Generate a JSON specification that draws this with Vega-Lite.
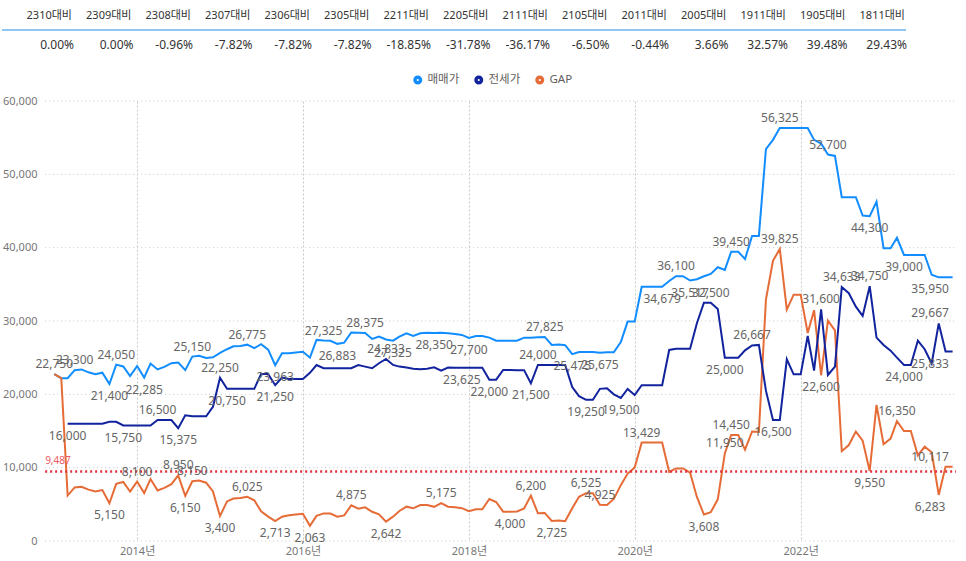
{
  "$schema": "https://vega.github.io/schema/vega-lite/v6.json",
  "padding": {"left": 1, "top": 1, "right": 0, "bottom": 0},
  "spacing": 36,
  "config": {
    "font": "'Noto Sans', 'Noto Sans CJK KR'",
    "view": {"stroke": null}
  },
  "datasets": {
    "tbl": [
      {"c": "2310대비", "p": "0.00%"}, {"c": "2309대비", "p": "0.00%"}, {"c": "2308대비", "p": "-0.96%"},
      {"c": "2307대비", "p": "-7.82%"}, {"c": "2306대비", "p": "-7.82%"}, {"c": "2305대비", "p": "-7.82%"},
      {"c": "2211대비", "p": "-18.85%"}, {"c": "2205대비", "p": "-31.78%"}, {"c": "2111대비", "p": "-36.17%"},
      {"c": "2105대비", "p": "-6.50%"}, {"c": "2011대비", "p": "-0.44%"}, {"c": "2005대비", "p": "3.66%"},
      {"c": "1911대비", "p": "32.57%"}, {"c": "1905대비", "p": "39.48%"}, {"c": "1811대비", "p": "29.43%"}
    ],
    "grid": [
      {"g": 0, "t0": "2012-11-22", "t1": "2023-11-16"}, {"g": 10000, "t0": "2012-11-22", "t1": "2023-11-16"},
      {"g": 20000, "t0": "2012-11-22", "t1": "2023-11-16"}, {"g": 30000, "t0": "2012-11-22", "t1": "2023-11-16"},
      {"g": 40000, "t0": "2012-11-22", "t1": "2023-11-16"}, {"g": 50000, "t0": "2012-11-22", "t1": "2023-11-16"},
      {"g": 60000, "t0": "2012-11-22", "t1": "2023-11-16"}
    ],
    "main": [
      {"d": "2013-01", "매매가": 22750, "전세가": null, "GAP": 22750, "L": "GAP"},
      {"d": "2013-02", "매매가": 22200, "전세가": null, "GAP": 22200},
      {"d": "2013-03", "매매가": 22200, "전세가": 16000, "GAP": 6200, "L": "전세가"},
      {"d": "2013-04", "매매가": 23300, "전세가": 16000, "GAP": 7300, "L": "매매가"},
      {"d": "2013-05", "매매가": 23400, "전세가": 16000, "GAP": 7400},
      {"d": "2013-06", "매매가": 23000, "전세가": 16000, "GAP": 7000},
      {"d": "2013-07", "매매가": 22750, "전세가": 16000, "GAP": 6750},
      {"d": "2013-08", "매매가": 22950, "전세가": 16000, "GAP": 6950},
      {"d": "2013-09", "매매가": 21400, "전세가": 16250, "GAP": 5150, "L": "매매가|GAP"},
      {"d": "2013-10", "매매가": 24050, "전세가": 16250, "GAP": 7800, "L": "매매가"},
      {"d": "2013-11", "매매가": 23800, "전세가": 15750, "GAP": 8050, "L": "전세가"},
      {"d": "2013-12", "매매가": 22500, "전세가": 15750, "GAP": 6750},
      {"d": "2014-01", "매매가": 23850, "전세가": 15750, "GAP": 8100, "L": "GAP"},
      {"d": "2014-02", "매매가": 22285, "전세가": 15750, "GAP": 6535, "L": "매매가"},
      {"d": "2014-03", "매매가": 24200, "전세가": 15750, "GAP": 8450},
      {"d": "2014-04", "매매가": 23400, "전세가": 16500, "GAP": 6900, "L": "전세가"},
      {"d": "2014-05", "매매가": 23750, "전세가": 16500, "GAP": 7250},
      {"d": "2014-06", "매매가": 24250, "전세가": 16500, "GAP": 7750},
      {"d": "2014-07", "매매가": 24325, "전세가": 15375, "GAP": 8950, "L": "전세가|GAP"},
      {"d": "2014-08", "매매가": 23300, "전세가": 17150, "GAP": 6150, "L": "GAP"},
      {"d": "2014-09", "매매가": 25150, "전세가": 17000, "GAP": 8150, "L": "매매가|GAP"},
      {"d": "2014-10", "매매가": 25250, "전세가": 17000, "GAP": 8250},
      {"d": "2014-11", "매매가": 24950, "전세가": 17000, "GAP": 7950},
      {"d": "2014-12", "매매가": 25050, "전세가": 18300, "GAP": 6750},
      {"d": "2015-01", "매매가": 25650, "전세가": 22250, "GAP": 3400, "L": "전세가|GAP"},
      {"d": "2015-02", "매매가": 26150, "전세가": 20750, "GAP": 5400, "L": "전세가"},
      {"d": "2015-03", "매매가": 26550, "전세가": 20750, "GAP": 5800},
      {"d": "2015-04", "매매가": 26600, "전세가": 20750, "GAP": 5850},
      {"d": "2015-05", "매매가": 26775, "전세가": 20750, "GAP": 6025, "L": "매매가|GAP"},
      {"d": "2015-06", "매매가": 26300, "전세가": 20750, "GAP": 5550},
      {"d": "2015-07", "매매가": 26830, "전세가": 22780, "GAP": 4050},
      {"d": "2015-08", "매매가": 26100, "전세가": 22780, "GAP": 3320},
      {"d": "2015-09", "매매가": 23963, "전세가": 21250, "GAP": 2713, "L": "매매가|전세가|GAP"},
      {"d": "2015-10", "매매가": 25600, "전세가": 22280, "GAP": 3320},
      {"d": "2015-11", "매매가": 25600, "전세가": 22100, "GAP": 3500},
      {"d": "2015-12", "매매가": 25700, "전세가": 22100, "GAP": 3600},
      {"d": "2016-01", "매매가": 25800, "전세가": 22100, "GAP": 3700},
      {"d": "2016-02", "매매가": 25000, "전세가": 22937, "GAP": 2063, "L": "GAP"},
      {"d": "2016-03", "매매가": 27420, "전세가": 24000, "GAP": 3420},
      {"d": "2016-04", "매매가": 27325, "전세가": 23560, "GAP": 3765, "L": "매매가"},
      {"d": "2016-05", "매매가": 27300, "전세가": 23560, "GAP": 3740},
      {"d": "2016-06", "매매가": 26883, "전세가": 23560, "GAP": 3323, "L": "매매가"},
      {"d": "2016-07", "매매가": 27050, "전세가": 23560, "GAP": 3490},
      {"d": "2016-08", "매매가": 28435, "전세가": 23560, "GAP": 4875, "L": "GAP"},
      {"d": "2016-09", "매매가": 28400, "전세가": 24000, "GAP": 4400},
      {"d": "2016-10", "매매가": 28375, "전세가": 23780, "GAP": 4595, "L": "매매가"},
      {"d": "2016-11", "매매가": 27550, "전세가": 23560, "GAP": 3990},
      {"d": "2016-12", "매매가": 27870, "전세가": 24240, "GAP": 3630},
      {"d": "2017-01", "매매가": 27475, "전세가": 24833, "GAP": 2642, "L": "전세가|GAP"},
      {"d": "2017-02", "매매가": 27325, "전세가": 24010, "GAP": 3315, "L": "매매가"},
      {"d": "2017-03", "매매가": 27870, "전세가": 23780, "GAP": 4090},
      {"d": "2017-04", "매매가": 28330, "전세가": 23650, "GAP": 4680},
      {"d": "2017-05", "매매가": 27960, "전세가": 23500, "GAP": 4460},
      {"d": "2017-06", "매매가": 28330, "전세가": 23420, "GAP": 4910},
      {"d": "2017-07", "매매가": 28400, "전세가": 23500, "GAP": 4900},
      {"d": "2017-08", "매매가": 28350, "전세가": 23690, "GAP": 4660, "L": "매매가"},
      {"d": "2017-09", "매매가": 28410, "전세가": 23235, "GAP": 5175, "L": "GAP"},
      {"d": "2017-10", "매매가": 28330, "전세가": 23650, "GAP": 4680},
      {"d": "2017-11", "매매가": 28230, "전세가": 23625, "GAP": 4605},
      {"d": "2017-12", "매매가": 28100, "전세가": 23625, "GAP": 4475, "L": "전세가"},
      {"d": "2018-01", "매매가": 27700, "전세가": 23625, "GAP": 4075, "L": "매매가"},
      {"d": "2018-02", "매매가": 27960, "전세가": 23625, "GAP": 4335},
      {"d": "2018-03", "매매가": 27960, "전세가": 23625, "GAP": 4335},
      {"d": "2018-04", "매매가": 27730, "전세가": 22000, "GAP": 5730, "L": "전세가"},
      {"d": "2018-05", "매매가": 27320, "전세가": 22000, "GAP": 5320},
      {"d": "2018-06", "매매가": 27320, "전세가": 23320, "GAP": 4000},
      {"d": "2018-07", "매매가": 27320, "전세가": 23320, "GAP": 4000, "L": "GAP"},
      {"d": "2018-08", "매매가": 27320, "전세가": 23300, "GAP": 4020},
      {"d": "2018-09", "매매가": 27730, "전세가": 23300, "GAP": 4430},
      {"d": "2018-10", "매매가": 27700, "전세가": 21500, "GAP": 6200, "L": "전세가|GAP"},
      {"d": "2018-11", "매매가": 27775, "전세가": 24000, "GAP": 3775, "L": "전세가"},
      {"d": "2018-12", "매매가": 27825, "전세가": 24000, "GAP": 3825, "L": "매매가"},
      {"d": "2019-01", "매매가": 26725, "전세가": 24000, "GAP": 2725, "L": "GAP"},
      {"d": "2019-02", "매매가": 26800, "전세가": 24000, "GAP": 2800},
      {"d": "2019-03", "매매가": 26700, "전세가": 24000, "GAP": 2700},
      {"d": "2019-04", "매매가": 25475, "전세가": 21000, "GAP": 4475, "L": "매매가"},
      {"d": "2019-05", "매매가": 25775, "전세가": 19750, "GAP": 6025},
      {"d": "2019-06", "매매가": 25775, "전세가": 19250, "GAP": 6525, "L": "전세가|GAP"},
      {"d": "2019-07", "매매가": 25775, "전세가": 19250, "GAP": 6525},
      {"d": "2019-08", "매매가": 25675, "전세가": 20750, "GAP": 4925, "L": "매매가|GAP"},
      {"d": "2019-09", "매매가": 25740, "전세가": 20830, "GAP": 4910},
      {"d": "2019-10", "매매가": 25740, "전세가": 20000, "GAP": 5740},
      {"d": "2019-11", "매매가": 27118, "전세가": 19500, "GAP": 7618, "L": "전세가"},
      {"d": "2019-12", "매매가": 29920, "전세가": 20730, "GAP": 9190},
      {"d": "2020-01", "매매가": 29920, "전세가": 19910, "GAP": 10010},
      {"d": "2020-02", "매매가": 34679, "전세가": 21250, "GAP": 13429, "L": "GAP"},
      {"d": "2020-03", "매매가": 34679, "전세가": 21250, "GAP": 13429},
      {"d": "2020-04", "매매가": 34679, "전세가": 21250, "GAP": 13429},
      {"d": "2020-05", "매매가": 34679, "전세가": 21250, "GAP": 13429, "L": "매매가"},
      {"d": "2020-06", "매매가": 35460, "전세가": 26050, "GAP": 9410},
      {"d": "2020-07", "매매가": 36100, "전세가": 26200, "GAP": 9900, "L": "매매가"},
      {"d": "2020-08", "매매가": 36100, "전세가": 26200, "GAP": 9900},
      {"d": "2020-09", "매매가": 35517, "전세가": 26200, "GAP": 9317, "L": "매매가"},
      {"d": "2020-10", "매매가": 35700, "전세가": 29690, "GAP": 6010},
      {"d": "2020-11", "매매가": 36100, "전세가": 32492, "GAP": 3608, "L": "GAP"},
      {"d": "2020-12", "매매가": 36420, "전세가": 32500, "GAP": 3920, "L": "전세가"},
      {"d": "2021-01", "매매가": 37330, "전세가": 31650, "GAP": 5680},
      {"d": "2021-02", "매매가": 36950, "전세가": 25000, "GAP": 11950, "L": "전세가|GAP"},
      {"d": "2021-03", "매매가": 39450, "전세가": 25000, "GAP": 14450, "L": "매매가|GAP"},
      {"d": "2021-04", "매매가": 39450, "전세가": 25000, "GAP": 14450},
      {"d": "2021-05", "매매가": 38449, "전세가": 26000, "GAP": 12449},
      {"d": "2021-06", "매매가": 41600, "전세가": 26667, "GAP": 14933, "L": "전세가"},
      {"d": "2021-07", "매매가": 41600, "전세가": 26740, "GAP": 14860},
      {"d": "2021-08", "매매가": 53430, "전세가": 20500, "GAP": 32930},
      {"d": "2021-09", "매매가": 54700, "전세가": 16500, "GAP": 38200, "L": "전세가"},
      {"d": "2021-10", "매매가": 56325, "전세가": 16500, "GAP": 39825, "L": "매매가|GAP"},
      {"d": "2021-11", "매매가": 56325, "전세가": 24780, "GAP": 31545},
      {"d": "2021-12", "매매가": 56325, "전세가": 22730, "GAP": 33595},
      {"d": "2022-01", "매매가": 56325, "전세가": 22730, "GAP": 33595},
      {"d": "2022-02", "매매가": 56325, "전세가": 27960, "GAP": 28365},
      {"d": "2022-03", "매매가": 54700, "전세가": 23230, "GAP": 31470},
      {"d": "2022-04", "매매가": 54200, "전세가": 31600, "GAP": 22600, "L": "전세가|GAP"},
      {"d": "2022-05", "매매가": 52700, "전세가": 22640, "GAP": 30060, "L": "매매가"},
      {"d": "2022-06", "매매가": 52510, "전세가": 23780, "GAP": 28730},
      {"d": "2022-07", "매매가": 46880, "전세가": 34633, "GAP": 12247, "L": "전세가"},
      {"d": "2022-08", "매매가": 46880, "전세가": 33790, "GAP": 13090},
      {"d": "2022-09", "매매가": 46880, "전세가": 31960, "GAP": 14920},
      {"d": "2022-10", "매매가": 44370, "전세가": 30690, "GAP": 13680},
      {"d": "2022-11", "매매가": 44300, "전세가": 34750, "GAP": 9550, "L": "매매가|전세가|GAP"},
      {"d": "2022-12", "매매가": 46280, "전세가": 27730, "GAP": 18550},
      {"d": "2023-01", "매매가": 39920, "전세가": 26730, "GAP": 13190},
      {"d": "2023-02", "매매가": 39920, "전세가": 25960, "GAP": 13960},
      {"d": "2023-03", "매매가": 41350, "전세가": 25000, "GAP": 16350, "L": "GAP"},
      {"d": "2023-04", "매매가": 39000, "전세가": 24000, "GAP": 15000, "L": "매매가|전세가"},
      {"d": "2023-05", "매매가": 39000, "전세가": 24000, "GAP": 15000},
      {"d": "2023-06", "매매가": 39000, "전세가": 27320, "GAP": 11680},
      {"d": "2023-07", "매매가": 39000, "전세가": 26150, "GAP": 12850},
      {"d": "2023-08", "매매가": 36300, "전세가": 24200, "GAP": 12100},
      {"d": "2023-09", "매매가": 35950, "전세가": 29667, "GAP": 6283, "L": "매매가|전세가|GAP"},
      {"d": "2023-10", "매매가": 35950, "전세가": 25833, "GAP": 10117, "L": "전세가|GAP"},
      {"d": "2023-11", "매매가": 35950, "전세가": 25833, "GAP": 10117}
    ]
  },
  "vconcat": [
    {
      "width": 904,
      "height": 58,
      "data": {"name": "tbl"},
      "layer": [
        {
          "data": {"values": [{"r": "r"}]},
          "mark": {"type": "rule", "color": "#8DC8F4", "strokeWidth": 2},
          "encoding": {
            "y": {"field": "r", "type": "nominal",
                  "scale": {"type": "point", "domain": ["h", "r", "v"], "padding": 1}, "axis": null}
          }
        },
        {
          "transform": [{"calculate": "'h'", "as": "row"}],
          "mark": {"type": "text", "align": "right", "dx": -1, "fontSize": 11, "color": "#333333"},
          "encoding": {
            "x": {"field": "c", "type": "nominal", "sort": null, "bandPosition": 1,
                  "scale": {"type": "band", "paddingInner": 0, "paddingOuter": 0.0966, "align": 1}, "axis": null},
            "y": {"field": "row", "type": "nominal"},
            "text": {"field": "c"}
          }
        },
        {
          "transform": [{"calculate": "'v'", "as": "row"}],
          "mark": {"type": "text", "align": "right", "dx": 1, "fontSize": 12, "color": "#333333"},
          "encoding": {
            "x": {"field": "c", "type": "nominal", "sort": null, "bandPosition": 1},
            "y": {"field": "row", "type": "nominal"},
            "text": {"field": "p"}
          }
        }
      ]
    },
    {
      "width": 954,
      "height": 440,
      "data": {"name": "main"},
      "layer": [
        {
          "data": {"name": "grid"},
          "mark": {"type": "rule", "color": "#C8C8C8", "strokeWidth": 1, "strokeDash": [1, 3]},
          "encoding": {
            "x": {"field": "t0", "type": "temporal"},
            "x2": {"field": "t1"},
            "y": {"field": "g", "type": "quantitative"}
          }
        },
        {
          "transform": [
            {"fold": ["매매가", "전세가", "GAP"], "as": ["s", "v"]},
            {"filter": "datum.v != null"}
          ],
          "mark": {"type": "line", "strokeWidth": 2},
          "encoding": {
            "x": {"field": "d", "type": "temporal",
                  "scale": {"type": "utc", "domain": [{"year": 2012, "month": 5, "date": 16, "utc": true}, {"year": 2023, "month": 11, "date": 16, "utc": true}]},
                  "axis": {"values": [{"year": 2014, "month": 1, "date": 1, "utc": true}, {"year": 2016, "month": 1, "date": 1, "utc": true}, {"year": 2018, "month": 1, "date": 1, "utc": true}, {"year": 2020, "month": 1, "date": 1, "utc": true}, {"year": 2022, "month": 1, "date": 1, "utc": true}],
                           "format": "%Y년", "title": null, "grid": true, "gridDash": [2, 2], "gridColor": "#C8C8C8",
                           "ticks": false, "domain": false, "labelColor": "#777777", "labelFontSize": 11, "labelPadding": 4}},
            "y": {"field": "v", "type": "quantitative",
                  "scale": {"domain": [0, 60000], "nice": false},
                  "axis": {"values": [0, 10000, 20000, 30000, 40000, 50000, 60000], "labelExpr": "format(datum.value, ',')", "title": null,
                           "offset": -43, "grid": false, "ticks": false, "domain": false,
                           "labelColor": "#777777", "labelFontSize": 11, "labelPadding": 8}},
            "color": {"field": "s", "type": "nominal",
                      "scale": {"domain": ["매매가", "전세가", "GAP"], "range": ["#118DFF", "#12239E", "#E66C37"]},
                      "legend": {"orient": "none", "legendX": 410, "legendY": 73, "direction": "horizontal", "title": null,
                                 "symbolType": "circle", "symbolSize": 12, "symbolStrokeWidth": 5.5,
                                 "labelFontSize": 11.5, "labelColor": "#605E5C", "columnPadding": 6}}
          }
        },
        {
          "data": {"values": [{"ref": 9487, "t0": "2012-11-22", "t1": "2023-11-16"}]},
          "mark": {"type": "rule", "color": "#E3303E", "strokeWidth": 2.5, "strokeDash": [2, 3]},
          "encoding": {
            "x": {"field": "t0", "type": "temporal"},
            "x2": {"field": "t1"},
            "y": {"field": "ref", "type": "quantitative"}
          }
        },
        {
          "data": {"values": [{"ref": 9487, "t0": "2012-11-22"}]},
          "mark": {"type": "text", "align": "left", "dy": -10, "fontSize": 10, "color": "#EC5A61"},
          "encoding": {
            "x": {"field": "t0", "type": "temporal"},
            "y": {"field": "ref", "type": "quantitative"},
            "text": {"field": "ref", "type": "quantitative", "format": ","}
          }
        },
        {
          "transform": [
            {"fold": ["매매가", "전세가", "GAP"], "as": ["s", "v"]},
            {"filter": "datum.v != null"},
            {"window": [{"op": "min", "field": "v", "as": "nmin"}], "frame": [-1, 1], "groupby": ["s"], "sort": [{"field": "d"}]},
            {"filter": "datum.L && indexof(split(datum.L, '|'), datum.s) >= 0 && datum.v > datum.nmin"},
            {"calculate": "min(toDate(datum.d), utc(2023, 6, 25))", "as": "dl"}
          ],
          "mark": {"type": "text", "dy": -10, "fontSize": 12, "color": "#666666"},
          "encoding": {
            "x": {"field": "dl", "type": "temporal"},
            "y": {"field": "v", "type": "quantitative"},
            "text": {"field": "v", "type": "quantitative", "format": ","}
          }
        },
        {
          "transform": [
            {"fold": ["매매가", "전세가", "GAP"], "as": ["s", "v"]},
            {"filter": "datum.v != null"},
            {"window": [{"op": "min", "field": "v", "as": "nmin"}], "frame": [-1, 1], "groupby": ["s"], "sort": [{"field": "d"}]},
            {"filter": "datum.L && indexof(split(datum.L, '|'), datum.s) >= 0 && datum.v <= datum.nmin"},
            {"calculate": "min(toDate(datum.d), utc(2023, 6, 25))", "as": "dl"}
          ],
          "mark": {"type": "text", "dy": 12, "fontSize": 12, "color": "#666666"},
          "encoding": {
            "x": {"field": "dl", "type": "temporal"},
            "y": {"field": "v", "type": "quantitative"},
            "text": {"field": "v", "type": "quantitative", "format": ","}
          }
        }
      ]
    }
  ]
}
